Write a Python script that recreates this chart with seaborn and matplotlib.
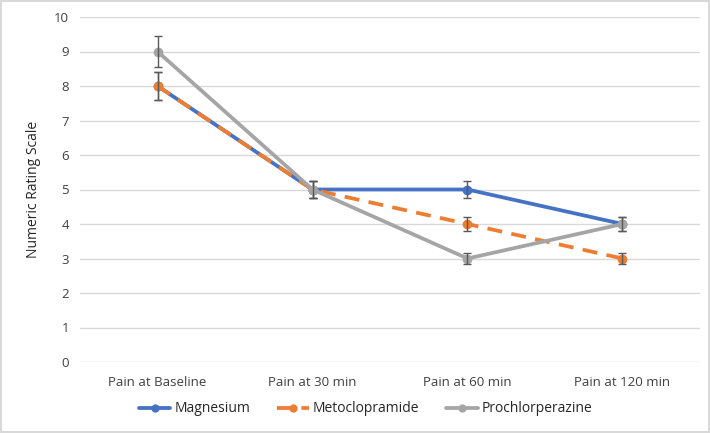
import matplotlib
matplotlib.use("Agg")
import matplotlib.pyplot as plt
import seaborn as sns
import pandas as pd

categories = ["Pain at Baseline", "Pain at 30 min", "Pain at 60 min", "Pain at 120 min"]
magnesium = [8, 5, 5, 4]
metoclopramide = [8, 5, 4, 3]
prochlorperazine = [9, 5, 3, 4]
magnesium_err = [0.4, 0.25, 0.25, 0.2]
metoclopramide_err = [0.4, 0.25, 0.2, 0.15]
prochlorperazine_err = [0.45, 0.25, 0.15, 0.2]

series = [
    ("Magnesium", magnesium, magnesium_err, "#4472C4", (None, None)),
    ("Metoclopramide", metoclopramide, metoclopramide_err, "#ED7D31", (4, 2.5)),
    ("Prochlorperazine", prochlorperazine, prochlorperazine_err, "#A5A5A5", (None, None)),
]

sns.set_theme(style="white")
plt.rcParams["font.family"] = ["Open Sans", "DejaVu Sans"]

fig = plt.figure(figsize=(7.1, 4.33), dpi=100)
fig.patch.set_edgecolor("#D9D9D9")
fig.patch.set_linewidth(1.5)
ax = fig.add_axes([80 / 710, 1 - 362 / 433, 620 / 710, 345 / 433])

x = list(range(len(categories)))
for i, (name, vals, errs, color, dash) in enumerate(series):
    df = pd.DataFrame({"x": x, "y": vals})
    sns.lineplot(data=df, x="x", y="y", ax=ax, color=color, linewidth=2.7,
                 marker="o", markersize=7, markeredgewidth=0, label=name,
                 zorder=3 + i)
    if dash[0] is not None:
        ax.lines[-1].set_dashes(dash)
    ax.errorbar(x, vals, yerr=errs, fmt="none", ecolor="#595959", elinewidth=1,
                capsize=3, capthick=1, zorder=3 + i)

ax.set_xlim(-0.5, 3.5)
ax.set_ylim(0, 10)
ax.set_yticks(range(0, 11))
ax.set_xticks(x)
ax.set_xticklabels(categories)
ax.grid(axis="y", color="#D9D9D9", linewidth=1)
ax.set_axisbelow(True)
for s in ax.spines.values():
    s.set_visible(False)
ax.tick_params(axis="both", length=0, labelsize=9.5, colors="#404040", pad=8)
ax.tick_params(axis="x", pad=10)
ax.set_xlabel("")
ax.set_ylabel("Numeric Rating Scale", fontsize=10, color="#262626", labelpad=9)

handles, labels = ax.get_legend_handles_labels()
ax.get_legend().remove()
fig.legend(handles, labels, loc="center", bbox_to_anchor=(0.515, 1 - 409 / 433), ncol=3,
           frameon=False, fontsize=10, handlelength=2.3, columnspacing=1.9,
           handletextpad=0.3, markerscale=0.85)

fig.savefig("out.png", dpi=100, edgecolor=fig.get_edgecolor())
